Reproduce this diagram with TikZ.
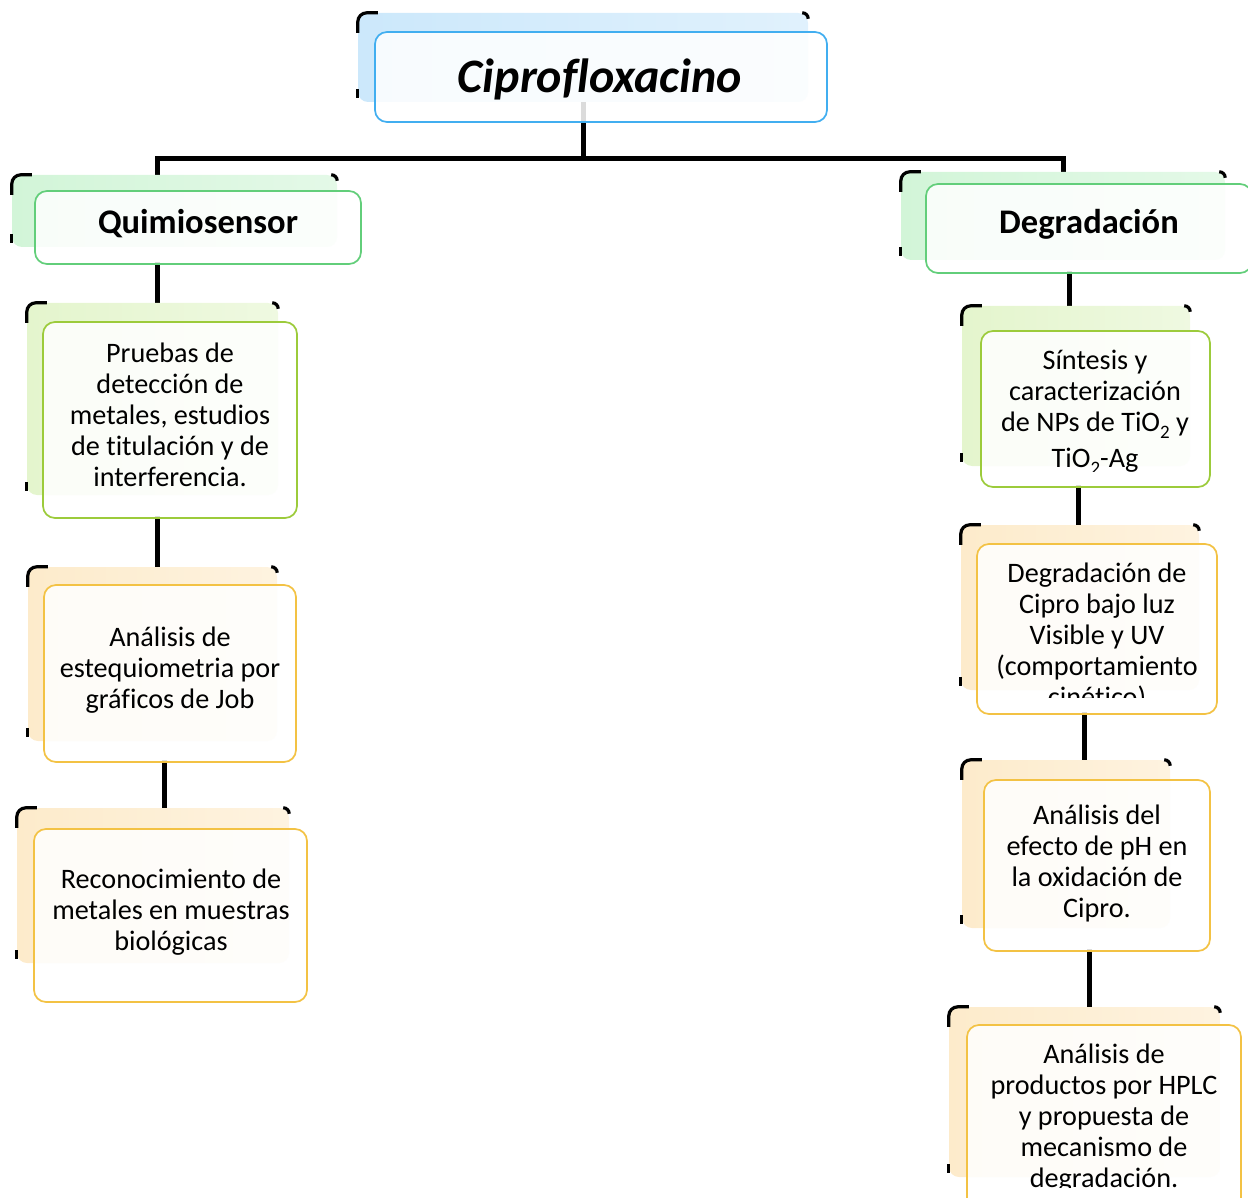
\documentclass[tikz,border=0pt]{standalone}
\usepackage{fontspec}
\setmainfont[Ligatures=NoCommon, RawFeature={-calt;-dlig}]{Carlito}
\usetikzlibrary{calc}
\pgfdeclarelayer{bg}
\pgfsetlayers{bg,main}
\definecolor{blueS}{HTML}{41AEF0}
\definecolor{blueB}{HTML}{CCE8FB}
\definecolor{greenS}{HTML}{62CE7A}
\definecolor{greenB}{HTML}{D2F5D8}
\definecolor{limeS}{HTML}{9CCB3B}
\definecolor{limeB}{HTML}{E4F5CD}
\definecolor{oranS}{HTML}{F3C244}
\definecolor{oranB}{HTML}{FDEBCB}
\newcommand\subtwo{\raisebox{-0.5ex}{\fontsize{19}{19}\selectfont 2}}
\tikzset{
  backbox/.style={rectangle, rounded corners=10pt, inner sep=0pt, draw=none,
    left color=#1, right color=#1!60!white},
  frontbox/.style={rectangle, rounded corners=12pt, inner sep=0pt, line width=1.7pt,
    draw=#1, fill=white, fill opacity=0.86},
  conn/.style={line width=5pt, black, line cap=rect},
  cornermark/.style={line width=3.2pt, black},
  bodytext/.style={font=\fontsize{28.2}{31}\selectfont, align=center, inner sep=0pt},
  headtext/.style={font=\fontsize{34.5}{40}\selectfont\bfseries, inner sep=0pt},
  titletext/.style={font=\fontsize{48}{56}\selectfont\bfseries\itshape, inner sep=0pt},
}
\newcommand\cornermarks[1]{%
  \draw[cornermark, rounded corners=9pt] ([yshift=-20pt]#1.north west) -- (#1.north west) -- ([xshift=20pt]#1.north west);
  \draw[cornermark, rounded corners=6pt] ([xshift=-6pt]#1.north east) -- (#1.north east) -- ([yshift=-6pt]#1.north east);
  \draw[cornermark] ([yshift=13pt]#1.south west) -- ([yshift=4pt]#1.south west);
}
\begin{document}
\begin{tikzpicture}[x=1pt, y=-1pt]
\useasboundingbox (0,0) rectangle (1248,1198);
% ---------- title
\node[backbox=blueB, minimum width=450pt, minimum height=89pt] (tB) at (583,57.5) {};
\cornermarks{tB}
\node[frontbox=blueS, minimum width=452pt, minimum height=90pt] (tF) at (601,77) {};
\node[titletext] (tT) at (600,79) {Ciprofloxacino};
% ---------- level 1
\node[backbox=greenB, minimum width=325pt, minimum height=72pt] (qB) at (174.5,211) {};
\cornermarks{qB}
\node[frontbox=greenS, minimum width=326pt, minimum height=73pt] (qF) at (198,227.5) {};
\node[headtext] (qT) at (198,224) {Quimiosensor};
\node[backbox=greenB, minimum width=324pt, minimum height=88pt] (dB) at (1063,216) {};
\cornermarks{dB}
\node[frontbox=greenS, minimum width=326pt, minimum height=89pt] (dF) at (1089,228.5) {};
\node[headtext] (dT) at (1089,224) {Degradación};
% ---------- left column
\node[backbox=limeB, minimum width=251pt, minimum height=192pt] (pB) at (152.5,399) {};
\cornermarks{pB}
\node[frontbox=limeS, minimum width=254pt, minimum height=196pt] (pF) at (170,420) {};
\node[bodytext] (pT) at (170,415) {Pruebas de\\detección de\\metales, estudios\\de t\kern0pt itulación y de\\interferencia.};
\node[backbox=oranB, minimum width=249pt, minimum height=174pt] (aB) at (152.5,654) {};
\cornermarks{aB}
\node[frontbox=oranS, minimum width=252pt, minimum height=177pt] (aF) at (170,673.5) {};
\node[bodytext] (aT) at (170,670) {Análisis de\\estequiometria por\\gráficos de Job};
\node[backbox=oranB, minimum width=272pt, minimum height=155pt] (rB) at (153,885.5) {};
\cornermarks{rB}
\node[frontbox=oranS, minimum width=273pt, minimum height=173pt] (rF) at (170.5,915.5) {};
\node[bodytext] (rT) at (171,912) {Reconocimiento de\\metales en muestras\\biológicas};
% ---------- right column
\node[backbox=limeB, minimum width=228pt, minimum height=160pt] (sB) at (1076,386) {};
\cornermarks{sB}
\node[frontbox=limeS, minimum width=229pt, minimum height=156pt] (sF) at (1095.5,409) {};
\begin{scope}
\clip (960,330) rectangle (1215,471);
\node[bodytext] (sT) at (1095,412) {Síntesis y\\caracterización\\de NPs de TiO\subtwo{} y\\[5pt]TiO\subtwo-Ag};
\end{scope}
\node[backbox=oranB, minimum width=238pt, minimum height=165pt] (cB) at (1080,607.5) {};
\cornermarks{cB}
\node[frontbox=oranS, minimum width=240pt, minimum height=170pt] (cF) at (1097,629) {};
\begin{scope}
\clip (960,545) rectangle (1220,697);
\node[bodytext] (cT) at (1097,637) {Degradación de\\Cipro bajo luz\\Visible y UV\\(comportamiento\\ciné\kern0pt t\kern0pt ico)};
\end{scope}
\node[backbox=oranB, minimum width=208pt, minimum height=168pt] (eB) at (1066,844) {};
\cornermarks{eB}
\node[frontbox=oranS, minimum width=226pt, minimum height=171pt] (eF) at (1097,865.5) {};
\node[bodytext] (eT) at (1097,863) {Análisis del\\efecto de pH en\\la oxidación de\\Cipro.};
\node[backbox=oranB, minimum width=271pt, minimum height=170pt] (hB) at (1084.5,1092) {};
\cornermarks{hB}
\node[frontbox=oranS, minimum width=274pt, minimum height=190pt] (hF) at (1104,1120) {};
\begin{scope}
\clip (940,1026) rectangle (1248,1187);
\node[bodytext] (hT) at (1104,1118) {Análisis de\\productos por HPLC\\y propuesta de\\mecanismo de\\degradación.};
\end{scope}
% ---------- connectors
\coordinate (busL) at (157,159);
\coordinate (busR) at (1063,159);
\coordinate (xl2) at (164,0);
\coordinate (xr1) at (1069,0);
\coordinate (xr2) at (1078,0);
\coordinate (xr3) at (1084,0);
\coordinate (xr4) at (1089,0);
\begin{pgfonlayer}{bg}
\draw[conn] (tB.south) -- (tB.south |- busL);
\draw[conn] (busL) -- (busR);
\draw[conn] (busL) -- (busL |- qB.north);
\draw[conn] (busR) -- (dB.north);
\draw[conn] (qF.south -| busL) -- (pB.north -| busL);
\draw[conn] (pF.south -| busL) -- (aB.north -| busL);
\draw[conn] (aF.south -| xl2) -- (rB.north -| xl2);
\draw[conn] (dF.south -| xr1) -- (sB.north -| xr1);
\draw[conn] (sF.south -| xr2) -- (cB.north -| xr2);
\draw[conn] (cF.south -| xr3) -- (eB.north -| xr3);
\draw[conn] (eF.south -| xr4) -- (hB.north -| xr4);
\end{pgfonlayer}
\end{tikzpicture}
\end{document}
